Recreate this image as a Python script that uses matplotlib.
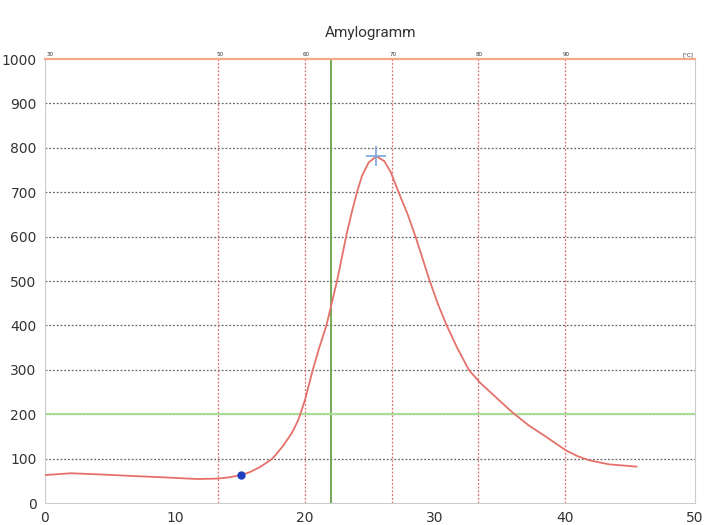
import matplotlib.pyplot as plt

# viscosity curve
time_pts = [0, 2, 4.5, 6.6, 9, 11.7, 13.3, 14.2, 15.1, 15.8, 16.6, 17.5, 18.3, 19.0, 19.5,
            20.0, 20.6, 21.1, 21.65, 22.1, 22.5, 22.85, 23.2, 23.6, 24.0, 24.4, 24.9,
            25.5, 26.1, 26.6, 27.2, 27.9, 28.5, 29.05, 29.6, 30.2, 30.9, 31.7, 32.6, 33.5,
            34.8, 36.0, 37.2, 38.5, 40.1, 41.0, 41.9, 43.4, 45.5]
visc_pts = [63, 67, 64, 61, 58, 54, 55, 58, 63, 70, 82, 100, 128, 158, 188,
            232, 300, 350, 400, 455, 505, 555, 605, 655, 700, 738, 767,
            781, 770, 745, 700, 650, 600, 550, 500, 450, 400, 350, 300, 270,
            235, 203, 175, 150, 118, 105, 96, 87, 82]

start_pt = (15.1, 63)
peak_pt = (25.5, 781)

temp_pos = [0, 13.33, 20, 26.67, 33.33, 40]
temp_labels = ['30', '50', '60', '70', '80', '90']
green_time = 22
green_level = 200

x_ticks = [0, 10, 20, 30, 40, 50]
y_ticks = [0, 100, 200, 300, 400, 500, 600, 700, 800, 900, 1000]

fig = plt.figure(figsize=(7.05, 5.25), dpi=100)
ax = fig.add_axes([0.0638, 0.0419, 0.922, 0.8457])
ax.set_xlim(0, 50)
ax.set_ylim(0, 1000)

for v in y_ticks[1:-1]:
    ax.axhline(v, color='#666666', lw=0.9, ls=(0, (1.5, 1.5)), zorder=1)
for t in temp_pos[1:]:
    ax.axvline(t, color='#e06a6a', lw=0.9, ls=(0, (1.5, 1.5)), zorder=1)

ax.axvline(green_time, color='#5c9a3a', lw=1.2, zorder=2)
ax.axhline(green_level, color='#a9dc95', lw=1.5, zorder=2)
ax.axhline(1000, color='#f5a98a', lw=1.6, zorder=3, clip_on=False)

for t, lab in zip(temp_pos, temp_labels):
    ax.text(t + 0.1, 1004, lab, fontsize=4, color='#333333', ha='left' if t == 0 else 'center',
            va='bottom')
ax.text(49.9, 1004, '[°C]', fontsize=4, color='#333333', ha='right', va='bottom')

ax.plot(time_pts, visc_pts, color='#e5716a', lw=1.3, zorder=4)
ax.plot(*start_pt, 'o', color='#1f3fbf', ms=5, zorder=5)
ax.plot(*peak_pt, '+', color='#7aa6d6', ms=14, mew=1.2, zorder=5)

ax.set_xticks(x_ticks)
ax.set_yticks(y_ticks)
ax.tick_params(length=0, labelsize=10, labelcolor='#333333', pad=6)
ax.spines['top'].set_visible(False)
for s in ['left', 'right', 'bottom']:
    ax.spines[s].set_color('#cccccc')

fig.text(0.525, 0.937, 'Amylogramm', ha='center', va='center', fontsize=11,
         family='Roboto', color='#333333')

fig.savefig('out.png', dpi=100)
